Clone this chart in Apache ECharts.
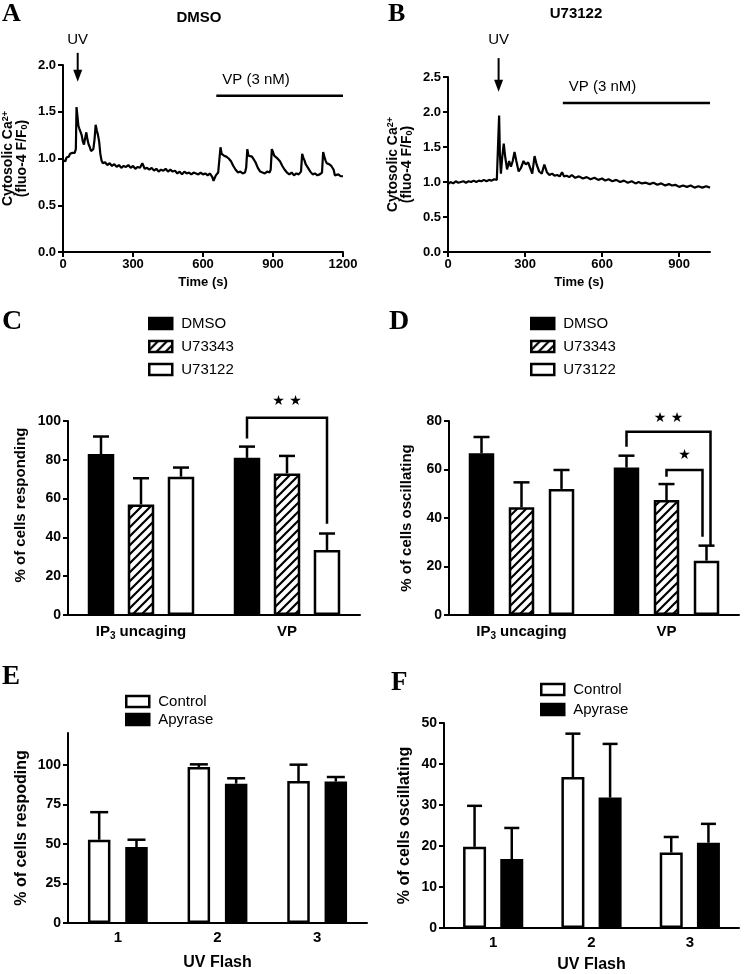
<!DOCTYPE html>
<html><head><meta charset="utf-8">
<script src="https://cdn.jsdelivr.net/npm/echarts@6/dist/echarts.min.js"></script>
<style>html,body{margin:0;padding:0;background:#fff}#c{width:745px;height:974px}</style>
</head><body><div id="c"></div>
<script>
// ---------- DATA ----------
const traceA = [[0,0.98],[5,1.00],[10,0.97],[15,1.01],[20,1.03],[25,1.02],[30,1.05],[35,1.04],[40,1.06],[45,1.07],[50,1.06],[55,1.10],[58,1.55],[62,1.45],[66,1.35],[70,1.32],[75,1.30],[80,1.25],[85,1.18],[90,1.15],[95,1.22],[100,1.28],[105,1.20],[110,1.15],[115,1.12],[120,1.08],[125,1.07],[130,1.10],[135,1.20],[140,1.36],[145,1.30],[150,1.25],[155,1.18],[160,1.05],[165,0.98],[170,0.95],[180,0.96],[190,0.93],[200,0.95],[210,0.92],[220,0.94],[230,0.91],[240,0.93],[250,0.90],[260,0.92],[270,0.91],[280,0.93],[290,0.90],[300,0.92],[310,0.89],[320,0.91],[330,0.90],[340,0.95],[350,0.89],[360,0.90],[370,0.88],[380,0.90],[390,0.87],[400,0.89],[410,0.86],[420,0.88],[430,0.87],[440,0.89],[450,0.86],[460,0.88],[470,0.86],[480,0.87],[490,0.84],[500,0.86],[510,0.83],[520,0.86],[530,0.84],[540,0.85],[550,0.83],[560,0.85],[570,0.84],[580,0.83],[590,0.85],[600,0.83],[610,0.84],[620,0.82],[630,0.84],[640,0.80],[645,0.76],[650,0.78],[655,0.82],[660,0.83],[665,0.85],[670,0.87],[675,1.12],[680,1.05],[685,1.06],[690,1.03],[695,1.05],[700,1.02],[705,1.04],[710,1.00],[720,0.97],[730,0.92],[740,0.88],[750,0.85],[760,0.86],[770,0.84],[780,0.85],[785,0.90],[790,1.10],[795,1.03],[800,1.05],[810,1.02],[815,1.03],[825,0.96],[835,0.90],[845,0.86],[855,0.85],[865,0.84],[875,0.86],[885,0.85],[890,0.88],[895,1.10],[900,1.07],[905,1.03],[915,1.01],[920,1.03],[930,0.97],[940,0.92],[950,0.88],[960,0.85],[970,0.83],[980,0.85],[990,0.82],[1000,0.84],[1010,0.83],[1020,0.86],[1025,1.05],[1030,1.01],[1035,0.98],[1040,0.94],[1045,0.96],[1050,0.90],[1060,0.86],[1070,0.83],[1080,0.84],[1090,0.82],[1100,0.83],[1110,0.85],[1115,1.07],[1120,1.02],[1125,0.98],[1130,0.95],[1140,0.94],[1150,0.92],[1160,0.88],[1165,0.82],[1170,0.80],[1180,0.83],[1185,0.82],[1190,0.81],[1200,0.81]];
const traceB = [[0,0.97],[10,1.00],[20,0.98],[30,1.01],[40,0.99],[50,1.00],[60,1.01],[70,0.99],[80,1.01],[90,1.00],[100,1.02],[110,1.00],[120,1.02],[130,1.01],[140,1.03],[150,1.01],[160,1.03],[170,1.02],[180,1.04],[190,1.03],[195,1.05],[199,1.95],[202,1.40],[206,1.12],[211,1.35],[217,1.55],[223,1.35],[230,1.18],[238,1.30],[245,1.22],[252,1.30],[259,1.43],[266,1.30],[275,1.15],[284,1.20],[294,1.30],[303,1.25],[312,1.28],[320,1.20],[328,1.12],[337,1.37],[345,1.25],[355,1.15],[365,1.12],[375,1.25],[385,1.14],[395,1.10],[405,1.12],[415,1.09],[425,1.10],[435,1.08],[444,1.14],[452,1.08],[462,1.09],[472,1.07],[482,1.10],[495,1.06],[510,1.08],[525,1.05],[540,1.07],[555,1.04],[570,1.06],[585,1.03],[600,1.05],[612,1.02],[625,1.04],[640,1.01],[655,1.03],[670,1.00],[685,1.02],[700,0.99],[715,1.01],[730,0.98],[742,1.00],[755,0.98],[770,0.99],[785,0.97],[800,0.99],[815,0.96],[830,0.98],[845,0.95],[860,0.97],[872,0.95],[885,0.96],[900,0.93],[915,0.95],[930,0.93],[945,0.95],[960,0.92],[975,0.94],[990,0.92],[1005,0.94],[1020,0.92]];

const uvTimeA = 63, vpStartA = 657, vpEndA = 1200;
const uvTimeB = 197, vpStartB = 447, vpEndB = 1020;

const catCD = ['IP3 uncaging', 'VP'];
const groupsCD = ['DMSO', 'U73343', 'U73122'];
const respDMSO = [83, 81],     respDMSOsem = [9, 5.8];
const respU73343 = [57, 73],   respU73343sem = [13.5, 9];
const respU73122 = [71.3, 33.5], respU73122sem = [4.7, 8.5];
const oscDMSO = [66.7, 60.8],  oscDMSOsem = [6.7, 4.9];
const oscU73343 = [44.4, 47.4], oscU73343sem = [10.3, 6.6];
const oscU73122 = [52, 22.4],  oscU73122sem = [7.8, 6.2];
// brackets: [category, fromBar, toBar, top, leftEnd, rightEnd, starValue]
const sigC = [[1, 0, 2, 101.7, 91, 47, 110]];
const sigCLabels = ['★ ★'];
const sigD = [[1, 0, 2, 75.6, 69.4, 28.9, 81], [1, 1, 2, 59.8, 57, 32.3, 66]];
const sigDLabels = ['★ ★', '★'];

const catEF = ['1', '2', '3'];
const groupsEF = ['Control', 'Apyrase'];
const respCtrl = [52.6, 98.5, 89.7],  respCtrlSem = [17.4, 1.7, 10.3];
const respApy = [48, 88, 89.3],       respApySem = [4.6, 3.4, 2.9];
const oscCtrl = [19.8, 36.8, 18.4],   oscCtrlSem = [10, 10.6, 3.8];
const oscApy = [16.8, 31.8, 20.8],    oscApySem = [7.6, 13.1, 4.6];

// ---------- STYLE ----------
const ff = "'Liberation Sans', Arial, Helvetica, sans-serif";
const serif = "'Liberation Serif', 'Times New Roman', serif";
function hatch() {
  const c = document.createElement('canvas');
  c.width = 9; c.height = 9;
  const g = c.getContext('2d');
  g.fillStyle = '#fff'; g.fillRect(0, 0, 9, 9);
  g.strokeStyle = '#000'; g.lineWidth = 2.2;
  g.beginPath();
  g.moveTo(-1, 10); g.lineTo(10, -1);
  g.moveTo(-5, 5); g.lineTo(5, -5);
  g.moveTo(4, 14); g.lineTo(14, 4);
  g.stroke();
  return { image: c, repeat: 'repeat' };
}
const fills = { black: '#000', white: '#fff', hatch: hatch() };

const chart = echarts.init(document.getElementById('c'), null, { renderer: 'canvas' });

const axLine = { lineStyle: { color: '#000', width: 2 } };
const axTick = { length: 5, lineStyle: { color: '#000', width: 2 } };
function lab(size, extra) { return Object.assign({ color: '#000', fontWeight: 'bold', fontFamily: ff, fontSize: size }, extra || {}); }
function nameStyle(size, extra) { return Object.assign({ color: '#000', fontWeight: 'bold', fontFamily: ff, fontSize: size }, extra || {}); }

const grids = [
  { left: 62, top: 65, width: 281, height: 187 },
  { left: 448, top: 77, width: 262, height: 175 },
  { left: 68, top: 421, width: 292, height: 194 },
  { left: 449, top: 421, width: 290, height: 194 },
  { left: 68, top: 733, width: 299, height: 190 },
  { left: 444, top: 723, width: 295, height: 208 }
];

const caRich = {
  t: { fontSize: 14, fontWeight: 'bold', fontFamily: ff, color: '#000', lineHeight: 14 },
  sup: { fontSize: 9, fontWeight: 'bold', fontFamily: ff, color: '#000', verticalAlign: 'top', lineHeight: 14 },
  sub: { fontSize: 9, fontWeight: 'bold', fontFamily: ff, color: '#000', verticalAlign: 'bottom', lineHeight: 14 }
};
const caName = '{t|Cytosolic Ca}{sup|2+}\n{t|(fluo-4 F/F}{sub|0}{t|)}';
const ip3Rich = {
  t: { fontSize: 15, fontWeight: 'bold', fontFamily: ff, color: '#000', lineHeight: 18 },
  sub: { fontSize: 10, fontWeight: 'bold', fontFamily: ff, color: '#000', verticalAlign: 'bottom', lineHeight: 18 }
};
function ip3Fmt(v) { return v === 'IP3 uncaging' ? '{t|IP}{sub|3}{t| uncaging}' : '{t|' + v + '}'; }
const plain = v => String(v);

const xAxes = [
  { gridIndex: 0, type: 'value', min: 0, max: 1200, interval: 300, axisLine: axLine, axisTick: axTick, splitLine: { show: false },
    axisLabel: lab(13, { margin: 6, formatter: plain }), name: 'Time (s)', nameLocation: 'middle', nameGap: 24, nameTextStyle: nameStyle(13) },
  { gridIndex: 1, type: 'value', min: 0, max: 1020, axisLine: axLine, axisTick: Object.assign({ customValues: [0, 300, 600, 900] }, axTick), splitLine: { show: false },
    axisLabel: lab(13, { margin: 6, formatter: plain, customValues: [0, 300, 600, 900] }), name: 'Time (s)', nameLocation: 'middle', nameGap: 24, nameTextStyle: nameStyle(13) },
  { gridIndex: 2, type: 'category', data: catCD, axisLine: axLine, axisTick: Object.assign({ alignWithLabel: true, interval: 0 }, axTick, { length: 6 }),
    axisLabel: { margin: 8, interval: 0, formatter: ip3Fmt, rich: ip3Rich } },
  { gridIndex: 3, type: 'category', data: catCD, axisLine: axLine, axisTick: Object.assign({ alignWithLabel: true, interval: 0 }, axTick, { length: 6 }),
    axisLabel: { margin: 8, interval: 0, formatter: ip3Fmt, rich: ip3Rich } },
  { gridIndex: 4, type: 'category', data: catEF, axisLine: axLine, axisTick: Object.assign({ alignWithLabel: true, interval: 0 }, axTick, { length: 6 }),
    axisLabel: lab(15, { margin: 7, interval: 0 }), name: 'UV Flash', nameLocation: 'middle', nameGap: 32, nameTextStyle: nameStyle(16) },
  { gridIndex: 5, type: 'category', data: catEF, axisLine: axLine, axisTick: Object.assign({ alignWithLabel: true, interval: 0 }, axTick, { length: 6 }),
    axisLabel: lab(15, { margin: 7, interval: 0 }), name: 'UV Flash', nameLocation: 'middle', nameGap: 29, nameTextStyle: nameStyle(16) }
];
const yAxes = [
  { gridIndex: 0, type: 'value', min: 0, max: 2, interval: 0.5, axisLine: Object.assign({ show: true }, axLine), axisTick: Object.assign({ show: true }, axTick), splitLine: { show: false },
    axisLabel: lab(13, { margin: 7, formatter: v => v.toFixed(1) }), name: caName, nameLocation: 'middle', nameGap: 34, nameTextStyle: { rich: caRich, lineHeight: 14 } },
  { gridIndex: 1, type: 'value', min: 0, max: 2.5, interval: 0.5, axisLine: Object.assign({ show: true }, axLine), axisTick: Object.assign({ show: true }, axTick), splitLine: { show: false },
    axisLabel: lab(13, { margin: 7, formatter: v => v.toFixed(1) }), name: caName, nameLocation: 'middle', nameGap: 34, nameTextStyle: { rich: caRich, lineHeight: 14 } },
  { gridIndex: 2, type: 'value', min: 0, max: 100, interval: 20, axisLine: Object.assign({ show: true }, axLine), axisTick: Object.assign({ show: true }, axTick), splitLine: { show: false },
    axisLabel: lab(14, { margin: 7 }), name: '% of cells responding', nameLocation: 'middle', nameGap: 40, nameTextStyle: nameStyle(15, { padding: [0, 0, 0, 26] }) },
  { gridIndex: 3, type: 'value', min: 0, max: 80, interval: 20, axisLine: Object.assign({ show: true }, axLine), axisTick: Object.assign({ show: true }, axTick), splitLine: { show: false },
    axisLabel: lab(14, { margin: 7 }), name: '% of cells oscillating', nameLocation: 'middle', nameGap: 35, nameTextStyle: nameStyle(15) },
  { gridIndex: 4, type: 'value', min: 0, max: 120, axisLine: Object.assign({ show: true }, axLine), axisTick: Object.assign({ show: true, customValues: [0, 25, 50, 75, 100] }, axTick), splitLine: { show: false },
    axisLabel: lab(14, { margin: 7, customValues: [0, 25, 50, 75, 100] }), name: '% of cells respoding', nameLocation: 'middle', nameGap: 38, nameTextStyle: nameStyle(16) },
  { gridIndex: 5, type: 'value', min: 0, max: 50, interval: 10, axisLine: Object.assign({ show: true }, axLine), axisTick: Object.assign({ show: true }, axTick), splitLine: { show: false },
    axisLabel: lab(14, { margin: 7 }), name: '% of cells oscillating', nameLocation: 'middle', nameGap: 31, nameTextStyle: nameStyle(16) }
];

const series = [
  { type: 'line', xAxisIndex: 0, yAxisIndex: 0, data: traceA, showSymbol: false, lineStyle: { color: '#000', width: 2.2 }, itemStyle: { color: '#000' } },
  { type: 'line', xAxisIndex: 1, yAxisIndex: 1, data: traceB, showSymbol: false, lineStyle: { color: '#000', width: 2.2 }, itemStyle: { color: '#000' } }
];

function addBars(ax, names, means, sems, fillKeys, barWidth, barGapPx, capHalf) {
  const n = names.length;
  const pitch = barWidth + barGapPx;
  names.forEach((nm, k) => {
    series.push({
      type: 'bar', name: nm, xAxisIndex: ax, yAxisIndex: ax, data: means[k],
      barWidth: barWidth, barGap: (barGapPx / barWidth * 100).toFixed(1) + '%',
      itemStyle: { color: fills[fillKeys[k]], borderColor: '#000', borderWidth: 2.5 }
    });
  });
  names.forEach((nm, k) => {
    const off = (k - (n - 1) / 2) * pitch;
    series.push({
      type: 'custom', xAxisIndex: ax, yAxisIndex: ax, z: 3,
      data: means[k].map((m, i) => [i, m, m + sems[k][i]]),
      encode: { x: 0, y: 1 },
      renderItem: function (params, api) {
        const p0 = api.coord([api.value(0), api.value(1)]);
        const p1 = api.coord([api.value(0), api.value(2)]);
        const x = p0[0] + off;
        return { type: 'group', children: [
          { type: 'line', shape: { x1: x, y1: p0[1], x2: x, y2: p1[1] }, style: { stroke: '#000', lineWidth: 2.5 } },
          { type: 'line', shape: { x1: x - capHalf, y1: p1[1], x2: x + capHalf, y2: p1[1] }, style: { stroke: '#000', lineWidth: 2.5 } }
        ] };
      }
    });
  });
  return pitch;
}
function addBrackets(ax, data, labels, pitch, n, nudges) {
  series.push({
    type: 'custom', xAxisIndex: ax, yAxisIndex: ax, z: 4, clip: false,
    data: data, encode: { x: 0, y: 3 },
    renderItem: function (params, api) {
      const cat = api.value(0);
      const cx = api.coord([cat, 0])[0];
      const nd = nudges[params.dataIndex];
      const xL = cx + (api.value(1) - (n - 1) / 2) * pitch + nd[0];
      const xR = cx + (api.value(2) - (n - 1) / 2) * pitch + nd[1];
      const yT = api.coord([cat, api.value(3)])[1];
      const yL = api.coord([cat, api.value(4)])[1];
      const yR = api.coord([cat, api.value(5)])[1];
      const yS = api.coord([cat, api.value(6)])[1];
      return { type: 'group', children: [
        { type: 'polyline', shape: { points: [[xL, yL], [xL, yT], [xR, yT], [xR, yR]] }, style: { stroke: '#000', lineWidth: 2.5, fill: null } },
        { type: 'text', x: (xL + xR) / 2, y: yS, style: { text: labels[params.dataIndex], fontSize: 14, fontFamily: "'DejaVu Sans', sans-serif", fill: '#000', align: 'center', verticalAlign: 'middle' } }
      ] };
    }
  });
}

const pC = addBars(2, groupsCD, [respDMSO, respU73343, respU73122], [respDMSOsem, respU73343sem, respU73122sem], ['black', 'hatch', 'white'], 26.5, 13.5, 8);
addBrackets(2, sigC, sigCLabels, pC, 3, [[0, 0]]);
const pD = addBars(3, groupsCD, [oscDMSO, oscU73343, oscU73122], [oscDMSOsem, oscU73343sem, oscU73122sem], ['black', 'hatch', 'white'], 25.5, 14.5, 8);
addBrackets(3, sigD, sigDLabels, pD, 3, [[0, 4], [0, -4]]);
addBars(4, groupsEF, [respCtrl, respApy], [respCtrlSem, respApySem], ['white', 'black'], 22.5, 14.8, 9);
addBars(5, groupsEF, [oscCtrl, oscApy], [oscCtrlSem, oscApySem], ['white', 'black'], 23, 14.2, 7.5);

function legend(names, left, top, gap) {
  return { data: names, orient: 'vertical', left: left, top: top, itemWidth: 23, itemHeight: 11, itemGap: gap,
    selectedMode: false, icon: 'rect', padding: 0,
    itemStyle: { borderColor: '#000', borderWidth: 2.5 },
    textStyle: { fontSize: 15, lineHeight: 15, fontFamily: ff, color: '#000', padding: [0, 0, 0, 4] } };
}

const letter = (t, x, y, size) => ({ text: t, left: x, top: y, padding: 0, textStyle: { fontFamily: serif, fontWeight: 'bold', fontSize: size, color: '#000' } });
const ttl = (t, x, y) => ({ text: t, left: x, top: y, padding: 0, textAlign: 'center', textStyle: { fontFamily: ff, fontWeight: 'bold', fontSize: 15, color: '#000' } });

chart.setOption({
  animation: false,
  backgroundColor: '#fff',
  title: [
    letter('A', 2, 1, 26), letter('B', 388, 1, 26), letter('C', 2, 308, 28), letter('D', 389, 308, 28),
    letter('E', 2, 664, 27), letter('F', 391, 670, 27),
    ttl('DMSO', 199, 10), ttl('U73122', 576, 6)
  ],
  legend: [
    legend(groupsCD, 148, 316, 8),
    legend(groupsCD, 530, 316, 8),
    legend(groupsEF, 125, 694, 3),
    legend(groupsEF, 540, 682, 5)
  ],
  grid: grids,
  xAxis: xAxes,
  yAxis: yAxes,
  series: series
});

// annotations (UV arrows, VP bars) placed through the axes' scales
function annot(gi, uvT, uvTop, uvBot, uvTxt, vpS, vpE, vpY, vpTxtY) {
  const P = (t, v) => chart.convertToPixel({ gridIndex: gi }, [t, v]);
  const a0 = P(uvT, uvTop), a1 = P(uvT, uvBot), tu = P(uvT, uvTxt);
  const v0 = P(vpS, vpY), v1 = P(vpE, vpY), vt = P(vpS, vpTxtY);
  return [
    { type: 'line', shape: { x1: a0[0], y1: a0[1], x2: a1[0], y2: a1[1] - 8 }, style: { stroke: '#000', lineWidth: 2 } },
    { type: 'polygon', shape: { points: [[a1[0] - 4.5, a1[1] - 12], [a1[0] + 4.5, a1[1] - 12], [a1[0], a1[1]]] }, style: { fill: '#000' } },
    { type: 'text', x: tu[0], y: tu[1], style: { text: 'UV', fontSize: 15, fontFamily: ff, fill: '#000', align: 'center', verticalAlign: 'middle' } },
    { type: 'line', shape: { x1: v0[0], y1: v0[1], x2: v1[0], y2: v1[1] }, style: { stroke: '#000', lineWidth: 2.5 } },
    { type: 'text', x: vt[0] + 6, y: vt[1], style: { text: 'VP (3 nM)', fontSize: 15, fontFamily: ff, fill: '#000', align: 'left', verticalAlign: 'middle' } }
  ];
}
chart.setOption({ graphic: [].concat(
  annot(0, uvTimeA, 2.13, 1.82, 2.27, vpStartA, vpEndA, 1.67, 1.84),
  annot(1, uvTimeB, 2.77, 2.29, 3.03, vpStartB, vpEndB, 2.13, 2.36)
) });
</script></body></html>
